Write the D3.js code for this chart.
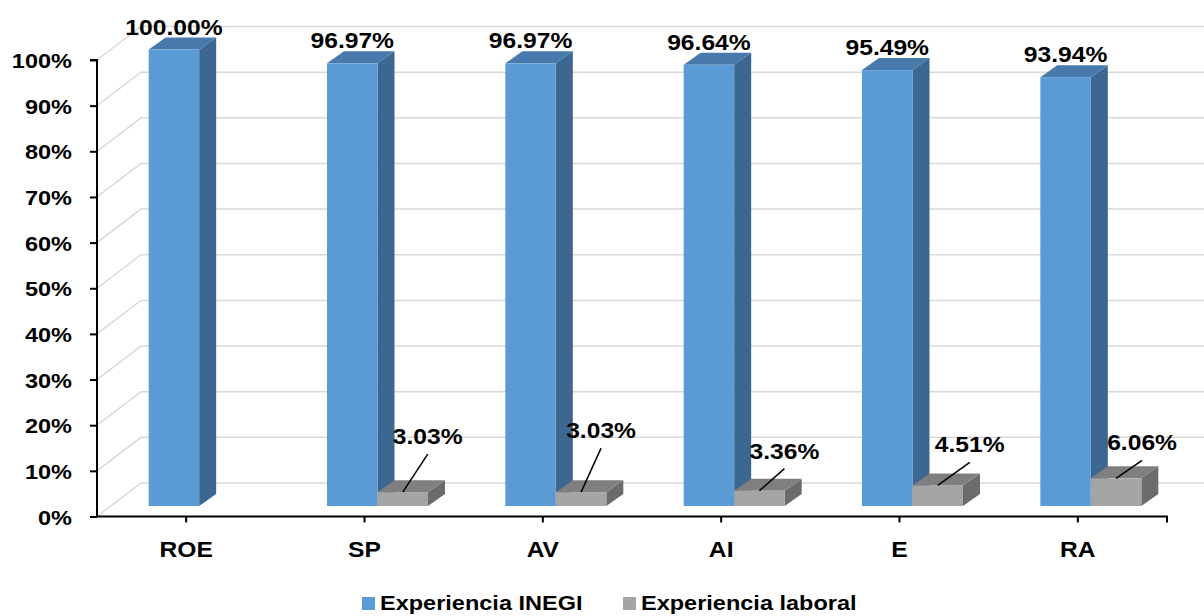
<!DOCTYPE html>
<html>
<head>
<meta charset="utf-8">
<script src="https://cdn.jsdelivr.net/npm/d3@7"></script>
<style>
  html, body { margin: 0; padding: 0; background: #fff; }
  svg text { font-family: "Liberation Sans", Arial, sans-serif; font-weight: bold; fill: #000; }
</style>
</head>
<body>
<svg id="chart" width="1204" height="616"></svg>
<script>
// Categories and series values (percent)
const categories = ["ROE", "SP", "AV", "AI", "E", "RA"];
const seriesNames = ["Experiencia INEGI", "Experiencia laboral"];
const inegiValues = [100.00, 96.97, 96.97, 96.64, 95.49, 93.94];
const laboralValues = [0, 3.03, 3.03, 3.36, 4.51, 6.06];
const yTicks = [0, 10, 20, 30, 40, 50, 60, 70, 80, 90, 100];

// Hand-placed offsets of the small grey value labels (relative to the bar's top)
const laboralLabelNudge = [[0, 0], [25, -48], [20, -54], [25, -32], [32, -33], [26, -28]];

const colors = {
  inegi: { front: "#5B9BD5", top: "#4879AD", side: "#3B6791" },
  laboral: { front: "#A5A5A5", top: "#7F7F7F", side: "#6B6B6B" }
};

const svg = d3.select("#chart");
const stretch = 1.12;           // horizontal text stretch
const wallDepth = [44, -33.5];  // offset from the front plane to the back wall
const barFront = [13, -10.5];   // offset of the bar front faces
const barDepth = [17, -12];     // depth of each bar

const x = d3.scaleBand().domain(categories).range([97, 1167]).padding(0);
const xs = d3.scaleBand().domain(seriesNames).range([0, x.bandwidth()]).paddingInner(0).paddingOuter(0.766);
const y = d3.scaleLinear().domain([0, 100]).range([516.5, 60]);

// Gridlines: side wall diagonals and back wall horizontals
const grid = svg.append("g").attr("stroke", "#D9D9D9").attr("stroke-width", 1.5).attr("fill", "none");
yTicks.forEach(t => {
  const y0 = y(t);
  grid.append("path")
    .attr("d", `M${x.range()[0]},${y0} L${x.range()[0] + wallDepth[0]},${y0 + wallDepth[1]} L1210,${y0 + wallDepth[1]}`);
});

// Axes
const axisY = svg.append("g").attr("transform", `translate(${x.range()[0]},0)`)
  .call(d3.axisLeft(y).tickValues(yTicks).tickSize(7).tickFormat(""));
axisY.selectAll("path, line").attr("stroke", "#000").attr("stroke-width", 2);
axisY.select(".domain").attr("d", `M-7,${y(100)}H0V${y(0)}`);

const yLabels = svg.append("g");
yTicks.forEach(t => {
  yLabels.append("text")
    .attr("transform", `translate(72,${y(t) + 8}) scale(${stretch},1)`)
    .attr("text-anchor", "end")
    .style("font-size", "21px")
    .text(t + "%");
});

const axisX = svg.append("g").attr("transform", `translate(0,${y(0)})`)
  .call(d3.axisBottom(x).tickSize(6).tickFormat(""));
axisX.selectAll("path, line").attr("stroke", "#000").attr("stroke-width", 2);
axisX.select(".domain").attr("d", `M${x.range()[0]},0H${x.range()[1]}V6`);

categories.forEach(c => {
  svg.append("text")
    .attr("transform", `translate(${x(c) + x.bandwidth() / 2},557) scale(${stretch},1)`)
    .attr("text-anchor", "middle")
    .style("font-size", "22px")
    .text(c);
});

// 3D bars
function drawBar(g, x0, w, v, col) {
  const yBot = y(0) + barFront[1];
  const yTop = y(v) + barFront[1];
  const [dx, dy] = barDepth;
  const x1 = x0 + w;
  g.append("path").attr("fill", col.side)
    .attr("d", `M${x1},${yTop}L${x1 + dx},${yTop + dy}L${x1 + dx},${yBot + dy}L${x1},${yBot}Z`);
  g.append("path").attr("fill", col.top)
    .attr("d", `M${x0},${yTop}L${x1},${yTop}L${x1 + dx},${yTop + dy}L${x0 + dx},${yTop + dy}Z`);
  g.append("rect").attr("fill", col.front)
    .attr("x", x0).attr("y", yTop).attr("width", w).attr("height", yBot - yTop);
  return { cx: x0 + w / 2, yTop };
}

const bars = svg.append("g");
const labels = svg.append("g");
categories.forEach((c, i) => {
  const g = bars.append("g");
  const bx = x(c) + barFront[0];
  const w = xs.bandwidth();

  const a = drawBar(g, bx + xs(seriesNames[0]), w, inegiValues[i], colors.inegi);
  labels.append("text")
    .attr("transform", `translate(${a.cx},${a.yTop - 15}) scale(${stretch},1)`)
    .attr("text-anchor", "middle")
    .style("font-size", "22px")
    .text(inegiValues[i].toFixed(2) + "%");

  if (laboralValues[i] > 0) {
    const b = drawBar(g, bx + xs(seriesNames[1]), w, laboralValues[i], colors.laboral);
    const [nx, ny] = laboralLabelNudge[i];
    const lx = b.cx + nx, ly = b.yTop + ny;
    labels.append("line")
      .attr("x1", lx).attr("y1", ly + 10).attr("x2", b.cx).attr("y2", b.yTop)
      .attr("stroke", "#000").attr("stroke-width", 1.5);
    labels.append("text")
      .attr("transform", `translate(${lx},${ly}) scale(${stretch},1)`)
      .attr("text-anchor", "middle")
      .style("font-size", "22px")
      .text(laboralValues[i].toFixed(2) + "%");
  }
});

// Legend
const legend = svg.append("g");
const legendItems = [
  { name: seriesNames[0], color: colors.inegi.front, x: 362 },
  { name: seriesNames[1], color: colors.laboral.front, x: 623 }
];
legendItems.forEach(d => {
  legend.append("rect").attr("x", d.x).attr("y", 597).attr("width", 13).attr("height", 13).attr("fill", d.color);
  legend.append("text")
    .attr("transform", `translate(${d.x + 18},610) scale(${stretch},1)`)
    .style("font-size", "21px")
    .text(d.name);
});
</script>
</body>
</html>
